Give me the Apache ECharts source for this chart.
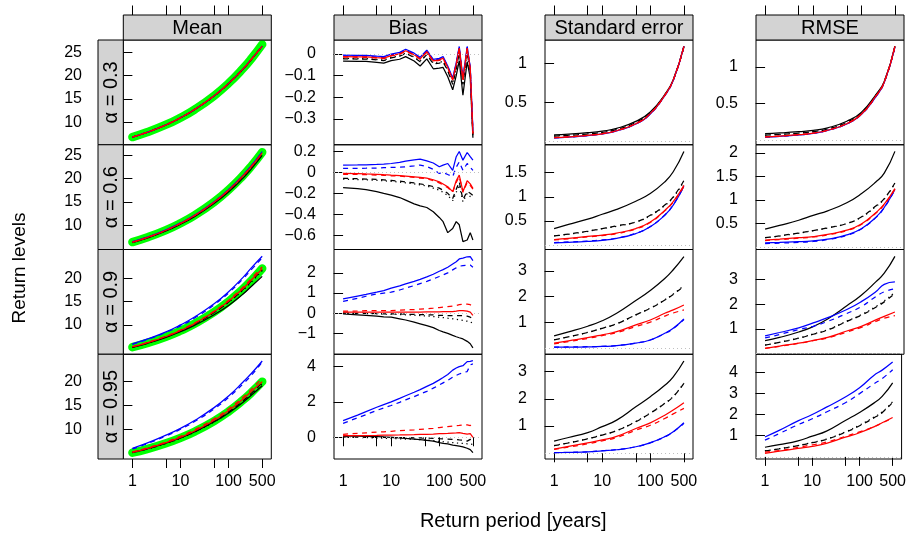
<!DOCTYPE html>
<html><head><meta charset="utf-8">
<script src="https://cdn.jsdelivr.net/npm/echarts@6/dist/echarts.min.js"></script>
<style>html,body{margin:0;padding:0;background:#fff}#c{width:909px;height:536px}</style>
</head><body><div id="c"></div>
<script>
// ---------------- DATA ----------------
const colTitles = ['Mean', 'Bias', 'Standard error', 'RMSE'];
const rowTitles = ['\u03B1 = 0.3', '\u03B1 = 0.6', '\u03B1 = 0.9', '\u03B1 = 0.95'];
const xTickYears = [1, 5, 10, 50, 100, 500];
const xLabelYears = [1, 10, 100, 500];
// return periods (years)
const T_grid = [1, 2, 5, 10, 20, 50, 100, 200, 300, 500];
const T_bias = [1, 2, 3, 5, 7, 10, 15, 20, 30, 40, 55, 75, 100, 120, 150, 190, 225, 260, 310, 380, 440, 500];

// ---- Mean ----
const mean_a03_true = [6.85, 7.86, 9.49, 11.00, 12.79, 15.69, 18.37, 21.55, 23.68, 26.70];
const mean_a03_bs   = [6.82, 7.83, 9.45, 10.97, 12.78, 15.66, 18.31, 21.40, 23.49, 26.31];
const mean_a03_bd   = [6.83, 7.84, 9.46, 10.98, 12.79, 15.68, 18.33, 21.42, 23.54, 26.33];
const mean_a03_bdot = [6.83, 7.84, 9.47, 10.98, 12.79, 15.68, 18.33, 21.42, 23.55, 26.33];
const mean_a03_us   = [6.85, 7.85, 9.48, 11.00, 12.81, 15.70, 18.35, 21.46, 23.59, 26.35];
const mean_a03_ud   = [6.84, 7.85, 9.48, 11.00, 12.81, 15.69, 18.35, 21.45, 23.58, 26.35];
const mean_a03_rs   = [6.84, 7.85, 9.47, 10.99, 12.80, 15.69, 18.34, 21.44, 23.57, 26.34];
const mean_a03_rd   = [6.84, 7.84, 9.47, 10.99, 12.80, 15.69, 18.34, 21.44, 23.57, 26.33];

const mean_a06_true = [6.40, 7.38, 8.97, 10.44, 12.18, 15.00, 17.60, 20.69, 22.77, 25.70];
const mean_a06_bs   = [6.26, 7.22, 8.78, 10.22, 11.91, 14.66, 17.15, 20.14, 22.17, 25.02];
const mean_a06_bd   = [6.33, 7.31, 8.90, 10.36, 12.10, 14.91, 17.48, 20.55, 22.62, 25.50];
const mean_a06_bdot = [6.33, 7.31, 8.90, 10.37, 12.11, 14.92, 17.50, 20.57, 22.64, 25.52];
const mean_a06_us   = [6.47, 7.45, 9.04, 10.51, 12.25, 15.08, 17.68, 20.79, 22.88, 25.85];
const mean_a06_ud   = [6.42, 7.40, 8.99, 10.46, 12.20, 15.02, 17.63, 20.73, 22.81, 25.75];
const mean_a06_rs   = [6.37, 7.35, 8.94, 10.41, 12.14, 14.96, 17.55, 20.63, 22.68, 25.57];
const mean_a06_rd   = [6.37, 7.35, 8.94, 10.41, 12.15, 14.97, 17.56, 20.64, 22.70, 25.58];

const mean_a09_true = [5.22, 6.08, 7.47, 8.76, 10.29, 12.76, 15.04, 17.75, 19.57, 22.14];
const mean_a09_bs   = [5.19, 6.00, 7.32, 8.56, 9.95, 12.18, 14.18, 16.63, 18.31, 20.42];
const mean_a09_bd   = [5.22, 6.07, 7.45, 8.73, 10.24, 12.69, 14.93, 17.63, 19.45, 21.86];
const mean_a09_bdot = [5.22, 6.07, 7.44, 8.71, 10.21, 12.63, 14.84, 17.47, 19.23, 21.65];
const mean_a09_us   = [5.93, 6.93, 8.51, 10.00, 11.74, 14.53, 17.12, 20.22, 22.29, 24.75];
const mean_a09_ud   = [5.80, 6.82, 8.42, 9.80, 11.53, 14.31, 16.86, 19.92, 21.92, 24.42];
const mean_a09_rs   = [5.27, 6.13, 7.52, 8.81, 10.34, 12.82, 15.10, 17.83, 19.70, 22.03];
const mean_a09_rd   = [5.32, 6.19, 7.59, 8.89, 10.45, 12.97, 15.32, 18.11, 20.01, 22.47];

const mean_a095_true = [5.08, 5.84, 7.07, 8.20, 9.55, 11.73, 13.74, 16.13, 17.74, 20.00];
const mean_a095_bs   = [5.15, 5.90, 7.11, 8.20, 9.49, 11.57, 13.44, 15.69, 17.22, 19.13];
const mean_a095_bd   = [5.10, 5.85, 7.07, 8.19, 9.53, 11.69, 13.66, 16.01, 17.59, 19.80];
const mean_a095_bdot = [5.08, 5.82, 7.02, 8.12, 9.44, 11.56, 13.51, 15.83, 17.40, 19.60];
const mean_a095_us   = [6.02, 7.09, 8.77, 10.20, 11.90, 14.55, 16.99, 19.93, 21.76, 24.34];
const mean_a095_ud   = [5.87, 6.94, 8.59, 10.00, 11.67, 14.28, 16.70, 19.53, 21.37, 24.15];
const mean_a095_rs   = [5.17, 5.94, 7.18, 8.32, 9.69, 11.90, 13.94, 16.37, 17.98, 20.00];
const mean_a095_rd   = [5.25, 6.06, 7.36, 8.54, 9.94, 12.20, 14.29, 16.76, 18.43, 20.79];

// ---- Bias ----
const bias_a03_bs   = [-0.033, -0.034, -0.034, -0.038, -0.042, -0.030, -0.024, -0.012, -0.032, -0.055, -0.022, -0.068, -0.065, -0.062, -0.105, -0.165, -0.100, -0.030, -0.190, -0.035, -0.110, -0.386];
const bias_a03_bd   = [-0.022, -0.023, -0.023, -0.027, -0.030, -0.018, -0.010, 0.003, -0.015, -0.036, -0.002, -0.046, -0.042, -0.036, -0.078, -0.140, -0.070, 0.008, -0.140, 0.008, -0.085, -0.375];
const bias_a03_bdot = [-0.020, -0.021, -0.021, -0.025, -0.028, -0.016, -0.008, 0.005, -0.013, -0.033, 0.000, -0.043, -0.039, -0.033, -0.075, -0.135, -0.066, 0.012, -0.135, 0.012, -0.080, -0.372];
const bias_a03_us   = [-0.005, -0.006, -0.006, -0.010, -0.012, 0.000, 0.008, 0.022, 0.004, -0.015, 0.018, -0.025, -0.020, -0.012, -0.055, -0.110, -0.040, 0.035, -0.110, 0.035, -0.060, -0.350];
const bias_a03_ud   = [-0.009, -0.010, -0.010, -0.014, -0.016, -0.004, 0.004, 0.018, 0.000, -0.019, 0.014, -0.029, -0.024, -0.016, -0.059, -0.114, -0.044, 0.031, -0.114, 0.031, -0.064, -0.355];
const bias_a03_rs   = [-0.012, -0.013, -0.013, -0.017, -0.019, -0.007, 0.001, 0.015, -0.003, -0.022, 0.011, -0.032, -0.027, -0.019, -0.062, -0.118, -0.048, 0.027, -0.118, 0.028, -0.068, -0.365];
const bias_a03_rd   = [-0.014, -0.015, -0.015, -0.019, -0.021, -0.009, -0.001, 0.013, -0.005, -0.024, 0.009, -0.034, -0.029, -0.021, -0.064, -0.120, -0.050, 0.025, -0.120, 0.025, -0.070, -0.368];

const bias_a06_bs   = [-0.146, -0.155, -0.165, -0.184, -0.200, -0.216, -0.240, -0.264, -0.300, -0.320, -0.335, -0.375, -0.430, -0.470, -0.575, -0.535, -0.470, -0.500, -0.660, -0.645, -0.575, -0.645];
const bias_a06_bd   = [-0.057, -0.060, -0.063, -0.067, -0.072, -0.077, -0.084, -0.090, -0.100, -0.110, -0.120, -0.135, -0.150, -0.170, -0.200, -0.250, -0.160, -0.090, -0.260, -0.180, -0.200, -0.220];
const bias_a06_bdot = [-0.065, -0.068, -0.071, -0.075, -0.080, -0.085, -0.092, -0.100, -0.110, -0.120, -0.130, -0.150, -0.170, -0.190, -0.220, -0.270, -0.190, -0.120, -0.280, -0.200, -0.230, -0.250];
const bias_a06_us   = [0.070, 0.071, 0.073, 0.076, 0.080, 0.085, 0.095, 0.108, 0.120, 0.127, 0.110, 0.090, 0.054, 0.070, 0.085, 0.020, 0.150, 0.200, 0.117, 0.190, 0.150, 0.117];
const bias_a06_ud   = [0.038, 0.039, 0.040, 0.042, 0.045, 0.048, 0.050, 0.054, 0.062, 0.070, 0.055, 0.030, -0.010, 0.000, -0.020, -0.040, 0.050, 0.100, 0.020, 0.085, 0.050, 0.020];
const bias_a06_rs   = [-0.010, -0.012, -0.015, -0.018, -0.022, -0.026, -0.030, -0.035, -0.042, -0.048, -0.055, -0.070, -0.090, -0.110, -0.137, -0.184, -0.080, -0.026, -0.184, -0.080, -0.110, -0.153];
const bias_a06_rd   = [-0.018, -0.020, -0.022, -0.025, -0.028, -0.032, -0.036, -0.040, -0.048, -0.055, -0.060, -0.078, -0.100, -0.120, -0.145, -0.190, -0.095, -0.040, -0.190, -0.095, -0.125, -0.160];

const bias_a09_bs   = [-0.03, -0.08, -0.11, -0.15, -0.18, -0.20, -0.28, -0.34, -0.45, -0.53, -0.62, -0.72, -0.86, -0.93, -1.00, -1.10, -1.17, -1.22, -1.28, -1.40, -1.52, -1.72];
const bias_a09_bd   = [0.00, -0.01, -0.01, -0.02, -0.03, -0.03, -0.04, -0.05, -0.06, -0.07, -0.08, -0.09, -0.11, -0.11, -0.12, -0.12, -0.12, -0.12, -0.13, -0.15, -0.20, -0.28];
const bias_a09_bdot = [0.00, -0.01, -0.02, -0.03, -0.04, -0.05, -0.07, -0.08, -0.10, -0.12, -0.14, -0.17, -0.20, -0.22, -0.25, -0.28, -0.31, -0.33, -0.36, -0.40, -0.44, -0.49];
const bias_a09_us   = [0.71, 0.85, 0.93, 1.04, 1.12, 1.24, 1.35, 1.45, 1.58, 1.68, 1.80, 1.93, 2.08, 2.16, 2.28, 2.44, 2.55, 2.69, 2.73, 2.80, 2.81, 2.61];
const bias_a09_ud   = [0.58, 0.74, 0.84, 0.95, 1.00, 1.04, 1.15, 1.24, 1.37, 1.47, 1.58, 1.70, 1.82, 1.90, 2.00, 2.15, 2.25, 2.33, 2.36, 2.38, 2.39, 2.28];
const bias_a09_rs   = [0.05, 0.05, 0.05, 0.05, 0.05, 0.05, 0.05, 0.05, 0.05, 0.05, 0.06, 0.06, 0.06, 0.07, 0.07, 0.08, 0.10, 0.12, 0.13, 0.10, 0.05, -0.11];
const bias_a09_rd   = [0.10, 0.11, 0.12, 0.12, 0.13, 0.13, 0.15, 0.16, 0.18, 0.20, 0.22, 0.25, 0.28, 0.30, 0.32, 0.35, 0.38, 0.42, 0.45, 0.45, 0.42, 0.33];

const bias_a095_bs   = [0.07, 0.06, 0.05, 0.04, 0.02, 0.00, -0.03, -0.06, -0.10, -0.13, -0.17, -0.22, -0.30, -0.34, -0.38, -0.44, -0.47, -0.50, -0.54, -0.62, -0.70, -0.87];
const bias_a095_bd   = [0.02, 0.01, 0.00, 0.00, -0.01, -0.01, -0.02, -0.02, -0.03, -0.04, -0.05, -0.06, -0.08, -0.09, -0.10, -0.12, -0.13, -0.15, -0.16, -0.22, -0.12, -0.20];
const bias_a095_bdot = [0.00, -0.01, -0.02, -0.04, -0.05, -0.07, -0.09, -0.10, -0.12, -0.14, -0.16, -0.19, -0.23, -0.25, -0.27, -0.30, -0.32, -0.34, -0.35, -0.37, -0.38, -0.40];
const bias_a095_us   = [0.94, 1.25, 1.45, 1.70, 1.85, 2.00, 2.20, 2.35, 2.55, 2.70, 2.88, 3.05, 3.25, 3.38, 3.55, 3.80, 3.92, 4.00, 4.05, 4.28, 4.30, 4.34];
const bias_a095_ud   = [0.79, 1.10, 1.28, 1.52, 1.66, 1.80, 1.98, 2.12, 2.30, 2.45, 2.60, 2.78, 2.96, 3.08, 3.22, 3.40, 3.50, 3.58, 3.66, 3.72, 4.10, 4.15];
const bias_a095_rs   = [0.09, 0.10, 0.10, 0.11, 0.12, 0.12, 0.13, 0.14, 0.15, 0.16, 0.17, 0.18, 0.20, 0.21, 0.22, 0.24, 0.25, 0.26, 0.22, 0.18, 0.20, 0.00];
const bias_a095_rd   = [0.17, 0.22, 0.25, 0.29, 0.31, 0.34, 0.37, 0.39, 0.42, 0.45, 0.48, 0.51, 0.55, 0.57, 0.60, 0.63, 0.65, 0.67, 0.70, 0.70, 0.66, 0.79];

// ---- Standard error ----
const se_a03_bs   = [0.083, 0.092, 0.110, 0.130, 0.165, 0.255, 0.376, 0.600, 0.790, 1.220];
const se_a03_bd   = [0.066, 0.075, 0.093, 0.113, 0.150, 0.240, 0.365, 0.595, 0.787, 1.215];
const se_a03_bdot = [0.068, 0.077, 0.095, 0.115, 0.152, 0.242, 0.367, 0.596, 0.788, 1.218];
const se_a03_us   = [0.042, 0.052, 0.072, 0.094, 0.133, 0.222, 0.350, 0.585, 0.780, 1.220];
const se_a03_ud   = [0.043, 0.053, 0.073, 0.095, 0.134, 0.223, 0.351, 0.587, 0.782, 1.215];
const se_a03_rs   = [0.045, 0.055, 0.075, 0.096, 0.135, 0.225, 0.354, 0.590, 0.785, 1.220];
const se_a03_rd   = [0.046, 0.056, 0.076, 0.097, 0.136, 0.226, 0.355, 0.590, 0.785, 1.210];

const se_a06_bs   = [0.344, 0.430, 0.540, 0.640, 0.740, 0.910, 1.070, 1.310, 1.520, 1.940];
const se_a06_bd   = [0.193, 0.230, 0.290, 0.344, 0.400, 0.480, 0.620, 0.830, 1.000, 1.340];
const se_a06_bdot = [0.190, 0.225, 0.285, 0.340, 0.390, 0.480, 0.610, 0.820, 0.990, 1.320];
const se_a06_us   = [0.048, 0.060, 0.080, 0.100, 0.140, 0.240, 0.380, 0.620, 0.830, 1.220];
const se_a06_ud   = [0.055, 0.066, 0.086, 0.107, 0.147, 0.245, 0.385, 0.625, 0.835, 1.220];
const se_a06_rs   = [0.117, 0.140, 0.180, 0.207, 0.250, 0.344, 0.480, 0.720, 0.900, 1.240];
const se_a06_rd   = [0.110, 0.132, 0.170, 0.198, 0.240, 0.335, 0.470, 0.710, 0.890, 1.220];

const se_a09_bs   = [0.49, 0.64, 0.86, 1.07, 1.36, 1.85, 2.24, 2.70, 3.04, 3.55];
const se_a09_bd   = [0.335, 0.45, 0.62, 0.78, 0.95, 1.30, 1.55, 1.87, 2.09, 2.41];
const se_a09_bdot = [0.34, 0.455, 0.625, 0.785, 0.96, 1.30, 1.56, 1.88, 2.10, 2.43];
const se_a09_us   = [0.05, 0.055, 0.065, 0.08, 0.11, 0.21, 0.33, 0.59, 0.78, 1.14];
const se_a09_ud   = [0.055, 0.06, 0.07, 0.085, 0.115, 0.21, 0.33, 0.58, 0.77, 1.12];
const se_a09_rs   = [0.21, 0.30, 0.42, 0.53, 0.65, 0.91, 1.10, 1.36, 1.49, 1.68];
const se_a09_rd   = [0.18, 0.27, 0.39, 0.50, 0.61, 0.85, 1.02, 1.25, 1.37, 1.49];

const se_a095_bs   = [0.45, 0.58, 0.76, 0.98, 1.22, 1.71, 2.08, 2.50, 2.81, 3.39];
const se_a095_bd   = [0.28, 0.38, 0.53, 0.67, 0.83, 1.16, 1.47, 1.83, 2.08, 2.57];
const se_a095_bdot = [0.285, 0.385, 0.535, 0.675, 0.835, 1.17, 1.48, 1.84, 2.09, 2.58];
const se_a095_us   = [0.02, 0.03, 0.05, 0.09, 0.13, 0.24, 0.39, 0.61, 0.79, 1.12];
const se_a095_ud   = [0.025, 0.035, 0.055, 0.095, 0.135, 0.24, 0.385, 0.60, 0.78, 1.10];
const se_a095_rs   = [0.15, 0.25, 0.38, 0.49, 0.62, 0.91, 1.12, 1.40, 1.59, 1.86];
const se_a095_rd   = [0.14, 0.23, 0.35, 0.46, 0.58, 0.85, 1.03, 1.28, 1.45, 1.65];

// ---- RMSE ----
const rmse_a03_bs   = [0.090, 0.100, 0.117, 0.134, 0.170, 0.260, 0.380, 0.620, 0.800, 1.280];
const rmse_a03_bd   = [0.070, 0.080, 0.098, 0.118, 0.153, 0.244, 0.370, 0.610, 0.795, 1.280];
const rmse_a03_bdot = [0.071, 0.081, 0.099, 0.119, 0.154, 0.245, 0.371, 0.612, 0.797, 1.280];
const rmse_a03_us   = [0.043, 0.053, 0.073, 0.095, 0.135, 0.223, 0.350, 0.590, 0.785, 1.270];
const rmse_a03_ud   = [0.044, 0.054, 0.074, 0.096, 0.136, 0.224, 0.352, 0.595, 0.787, 1.270];
const rmse_a03_rs   = [0.047, 0.057, 0.077, 0.097, 0.137, 0.226, 0.355, 0.600, 0.790, 1.280];
const rmse_a03_rd   = [0.048, 0.058, 0.078, 0.098, 0.138, 0.227, 0.356, 0.600, 0.790, 1.270];

const rmse_a06_bs   = [0.38, 0.46, 0.57, 0.675, 0.77, 0.94, 1.13, 1.38, 1.57, 2.03];
const rmse_a06_bd   = [0.20, 0.24, 0.30, 0.35, 0.41, 0.50, 0.64, 0.87, 1.03, 1.36];
const rmse_a06_bdot = [0.20, 0.235, 0.295, 0.35, 0.405, 0.50, 0.635, 0.86, 1.02, 1.35];
const rmse_a06_us   = [0.09, 0.10, 0.115, 0.135, 0.17, 0.26, 0.39, 0.63, 0.84, 1.22];
const rmse_a06_ud   = [0.075, 0.085, 0.10, 0.12, 0.16, 0.25, 0.385, 0.625, 0.835, 1.22];
const rmse_a06_rs   = [0.15, 0.17, 0.20, 0.225, 0.27, 0.36, 0.49, 0.73, 0.91, 1.24];
const rmse_a06_rd   = [0.14, 0.16, 0.19, 0.215, 0.26, 0.35, 0.48, 0.72, 0.90, 1.23];

const rmse_a09_bs   = [0.52, 0.65, 0.87, 1.09, 1.40, 1.93, 2.36, 2.90, 3.25, 3.93];
const rmse_a09_bd   = [0.34, 0.45, 0.62, 0.78, 0.95, 1.30, 1.55, 1.87, 2.09, 2.43];
const rmse_a09_bdot = [0.34, 0.455, 0.626, 0.79, 0.965, 1.31, 1.57, 1.90, 2.13, 2.48];
const rmse_a09_us   = [0.71, 0.85, 1.04, 1.24, 1.45, 1.78, 2.10, 2.50, 2.80, 2.90];
const rmse_a09_ud   = [0.63, 0.77, 0.97, 1.10, 1.30, 1.62, 1.90, 2.30, 2.50, 2.62];
const rmse_a09_rs   = [0.21, 0.30, 0.42, 0.53, 0.65, 0.91, 1.10, 1.36, 1.50, 1.68];
const rmse_a09_rd   = [0.21, 0.29, 0.41, 0.52, 0.63, 0.87, 1.06, 1.30, 1.43, 1.53];

const rmse_a095_bs   = [0.455, 0.58, 0.76, 0.98, 1.22, 1.72, 2.10, 2.54, 2.86, 3.50];
const rmse_a095_bd   = [0.28, 0.38, 0.53, 0.67, 0.83, 1.16, 1.47, 1.84, 2.09, 2.58];
const rmse_a095_bdot = [0.285, 0.385, 0.537, 0.68, 0.84, 1.18, 1.50, 1.87, 2.12, 2.61];
const rmse_a095_us   = [0.94, 1.25, 1.70, 2.00, 2.35, 2.83, 3.27, 3.85, 4.10, 4.48];
const rmse_a095_ud   = [0.79, 1.10, 1.52, 1.80, 2.12, 2.56, 2.99, 3.45, 3.70, 4.12];
const rmse_a095_rs   = [0.17, 0.27, 0.40, 0.50, 0.64, 0.93, 1.14, 1.42, 1.61, 1.86];
const rmse_a095_rd   = [0.22, 0.30, 0.45, 0.57, 0.70, 0.97, 1.18, 1.42, 1.60, 1.83];

// y-axis ticks per panel [row][col]
const yTicks_a03  = [[10, 15, 20, 25], [-0.3, -0.2, -0.1, 0], [0.5, 1], [0.5, 1]];
const yTicks_a06  = [[10, 15, 20, 25], [-0.6, -0.4, -0.2, 0, 0.2], [0.5, 1, 1.5], [0.5, 1, 1.5, 2]];
const yTicks_a09  = [[10, 15, 20], [-1, 0, 1, 2], [1, 2, 3], [1, 2, 3]];
const yTicks_a095 = [[10, 15, 20], [0, 2, 4], [1, 2, 3], [1, 2, 3, 4]];
// y-axis ranges per panel [row][col]
const yRange_a03  = [[5.2, 27.64], [-0.4185, 0.0648], [-0.045, 1.30], [-0.06, 1.365]];
const yRange_a06  = [[4.8, 27.3], [-0.736, 0.264], [-0.09, 2.08], [-0.05, 2.17]];
const yRange_a09  = [[3.7, 26.2], [-2.04, 3.16], [-0.22, 3.82], [-0.03, 4.21]];
const yRange_a095 = [[3.76, 25.76], [-1.23, 4.70], [-0.21, 3.64], [-0.10, 4.85]];

// ---------------- BUILD ----------------
const FONT = 'Liberation Sans, Arial, Helvetica, sans-serif';
const COL_LEFT = [123.3, 334, 545, 756];
const COL_W = 148;
const ROW_TOP = [40, 144.75, 249.5, 354.25];
const ROW_H = 104.75;
const STRIP_TOP = 15, STRIP_H = 25;
const RS_LEFT = 98, RS_W = 25.3;
const LOGMAX = Math.log10(500);
const XMIN = -0.07 * LOGMAX, XMAX = LOGMAX * 1.07;

const keys = ['bs', 'bd', 'bdot', 'us', 'ud', 'rs', 'rd'];
const DASH = [5, 4.5], DOT = [1.25, 3.5];
const styleOf = {
  bs: { color: '#000000', type: 'solid' },
  bd: { color: '#000000', type: DASH },
  bdot: { color: '#000000', type: DOT },
  us: { color: '#0000ff', type: 'solid' },
  ud: { color: '#0000ff', type: DASH },
  rs: { color: '#ff0000', type: 'solid' },
  rd: { color: '#ff0000', type: DASH }
};

const rowsData = [
  { mean: { true: mean_a03_true, bs: mean_a03_bs, bd: mean_a03_bd, bdot: mean_a03_bdot, us: mean_a03_us, ud: mean_a03_ud, rs: mean_a03_rs, rd: mean_a03_rd },
    bias: { bs: bias_a03_bs, bd: bias_a03_bd, bdot: bias_a03_bdot, us: bias_a03_us, ud: bias_a03_ud, rs: bias_a03_rs, rd: bias_a03_rd },
    se: { bs: se_a03_bs, bd: se_a03_bd, bdot: se_a03_bdot, us: se_a03_us, ud: se_a03_ud, rs: se_a03_rs, rd: se_a03_rd },
    rmse: { bs: rmse_a03_bs, bd: rmse_a03_bd, bdot: rmse_a03_bdot, us: rmse_a03_us, ud: rmse_a03_ud, rs: rmse_a03_rs, rd: rmse_a03_rd },
    ticks: yTicks_a03, ranges: yRange_a03 },
  { mean: { true: mean_a06_true, bs: mean_a06_bs, bd: mean_a06_bd, bdot: mean_a06_bdot, us: mean_a06_us, ud: mean_a06_ud, rs: mean_a06_rs, rd: mean_a06_rd },
    bias: { bs: bias_a06_bs, bd: bias_a06_bd, bdot: bias_a06_bdot, us: bias_a06_us, ud: bias_a06_ud, rs: bias_a06_rs, rd: bias_a06_rd },
    se: { bs: se_a06_bs, bd: se_a06_bd, bdot: se_a06_bdot, us: se_a06_us, ud: se_a06_ud, rs: se_a06_rs, rd: se_a06_rd },
    rmse: { bs: rmse_a06_bs, bd: rmse_a06_bd, bdot: rmse_a06_bdot, us: rmse_a06_us, ud: rmse_a06_ud, rs: rmse_a06_rs, rd: rmse_a06_rd },
    ticks: yTicks_a06, ranges: yRange_a06 },
  { mean: { true: mean_a09_true, bs: mean_a09_bs, bd: mean_a09_bd, bdot: mean_a09_bdot, us: mean_a09_us, ud: mean_a09_ud, rs: mean_a09_rs, rd: mean_a09_rd },
    bias: { bs: bias_a09_bs, bd: bias_a09_bd, bdot: bias_a09_bdot, us: bias_a09_us, ud: bias_a09_ud, rs: bias_a09_rs, rd: bias_a09_rd },
    se: { bs: se_a09_bs, bd: se_a09_bd, bdot: se_a09_bdot, us: se_a09_us, ud: se_a09_ud, rs: se_a09_rs, rd: se_a09_rd },
    rmse: { bs: rmse_a09_bs, bd: rmse_a09_bd, bdot: rmse_a09_bdot, us: rmse_a09_us, ud: rmse_a09_ud, rs: rmse_a09_rs, rd: rmse_a09_rd },
    ticks: yTicks_a09, ranges: yRange_a09 },
  { mean: { true: mean_a095_true, bs: mean_a095_bs, bd: mean_a095_bd, bdot: mean_a095_bdot, us: mean_a095_us, ud: mean_a095_ud, rs: mean_a095_rs, rd: mean_a095_rd },
    bias: { bs: bias_a095_bs, bd: bias_a095_bd, bdot: bias_a095_bdot, us: bias_a095_us, ud: bias_a095_ud, rs: bias_a095_rs, rd: bias_a095_rd },
    se: { bs: se_a095_bs, bd: se_a095_bd, bdot: se_a095_bdot, us: se_a095_us, ud: se_a095_ud, rs: se_a095_rs, rd: se_a095_rd },
    rmse: { bs: rmse_a095_bs, bd: rmse_a095_bd, bdot: rmse_a095_bdot, us: rmse_a095_us, ud: rmse_a095_ud, rs: rmse_a095_rs, rd: rmse_a095_rd },
    ticks: yTicks_a095, ranges: yRange_a095 }
];
const colKeys = ['mean', 'bias', 'se', 'rmse'];

function pairs(T, v) { return T.map((t, i) => [Math.log10(t), v[i]]); }
function fmtY(v) { return (v < 0 ? '\u2212' : '') + String(Math.abs(v)); }

const grids = [], xAxes = [], yAxes = [], series = [];
const xTickVals = xTickYears.map(t => Math.log10(t));
const xLabelVals = xLabelYears.map(t => Math.log10(t));

for (let r = 0; r < 4; r++) {
  for (let c = 0; c < 4; c++) {
    const g = r * 4 + c;
    grids.push({ left: COL_LEFT[c], top: ROW_TOP[r], width: COL_W, height: ROW_H,
      show: true, borderColor: '#000', borderWidth: 1, backgroundColor: 'transparent', containLabel: false });
    const bottom = r === 3;
    xAxes.push({ type: 'value', gridIndex: g, min: XMIN, max: XMAX, position: 'bottom',
      show: bottom, splitLine: { show: false }, axisLine: { show: false },
      axisTick: { show: true, length: 9, lineStyle: { color: '#000', width: 1 }, customValues: xTickVals },
      axisLabel: { show: true, margin: 15, fontSize: 16, fontFamily: FONT, color: '#000', customValues: xLabelVals,
        formatter: v => String(Math.round(Math.pow(10, v))) } });
    const rd = rowsData[r];
    yAxes.push({ type: 'value', gridIndex: g, min: rd.ranges[c][0], max: rd.ranges[c][1], position: 'left',
      offset: c === 0 ? RS_W : 0, splitLine: { show: false }, axisLine: { show: false },
      axisTick: { show: true, length: 9.5, lineStyle: { color: '#000', width: 1 }, customValues: rd.ticks[c] },
      axisLabel: { show: true, margin: c === 0 ? 16 : 18, fontSize: 16, fontFamily: FONT, color: '#000', customValues: rd.ticks[c], formatter: fmtY } });

    const panel = rd[colKeys[c]];
    const T = c === 1 ? T_bias : T_grid;
    const smooth = c === 1 ? false : 0.5;
    if (c === 0) {
      series.push({ type: 'line', xAxisIndex: g, yAxisIndex: g, data: pairs(T, panel.true), showSymbol: false,
        smooth: smooth, lineStyle: { color: '#00ff00', width: 8.5, cap: 'round', join: 'round' },
        silent: true, animation: false, z: 1 });
    }
    keys.forEach((k, ki) => {
      const s = { type: 'line', xAxisIndex: g, yAxisIndex: g, data: pairs(T, panel[k]), showSymbol: false,
        smooth: smooth, lineStyle: { color: styleOf[k].color, type: styleOf[k].type, width: 1.25 },
        silent: true, animation: false, z: 2 };
      if (c > 0 && ki === 0) {
        s.markLine = { silent: true, symbol: 'none', animation: false, label: { show: false },
          lineStyle: { color: '#c0c0c0', type: [1, 3], width: 1 }, data: [{ yAxis: 0 }] };
      }
      series.push(s);
    });
  }
}
// top tick marks above the strips
for (let c = 0; c < 4; c++) {
  xAxes.push({ type: 'value', gridIndex: c, min: XMIN, max: XMAX, position: 'top', offset: STRIP_H,
    splitLine: { show: false }, axisLine: { show: false },
    axisTick: { show: true, length: 9.5, lineStyle: { color: '#000', width: 1 }, customValues: xTickVals },
    axisLabel: { show: false } });
}

const graphic = [];
for (let c = 0; c < 4; c++) {
  graphic.push({ type: 'rect', shape: { x: COL_LEFT[c], y: STRIP_TOP, width: COL_W, height: STRIP_H },
    style: { fill: '#d3d3d3', stroke: '#000', lineWidth: 1 }, z: 10 });
  graphic.push({ type: 'text', x: COL_LEFT[c] + COL_W / 2, y: STRIP_TOP + STRIP_H / 2 + 1,
    style: { text: colTitles[c], fontSize: 20, fontFamily: FONT, fill: '#000', align: 'center', verticalAlign: 'middle' }, z: 11 });
}
for (let r = 0; r < 4; r++) {
  graphic.push({ type: 'rect', shape: { x: RS_LEFT, y: ROW_TOP[r], width: RS_W, height: ROW_H },
    style: { fill: '#d3d3d3', stroke: '#000', lineWidth: 1 }, z: 10 });
  graphic.push({ type: 'text', x: RS_LEFT + RS_W / 2 + 1, y: ROW_TOP[r] + ROW_H / 2, rotation: Math.PI / 2,
    style: { text: rowTitles[r], fontSize: 20, fontFamily: FONT, fill: '#000', align: 'center', verticalAlign: 'middle' }, z: 11 });
}
graphic.push({ type: 'text', x: 20, y: 268, rotation: Math.PI / 2,
  style: { text: 'Return levels', fontSize: 19, fontFamily: FONT, fill: '#000', align: 'center', verticalAlign: 'middle' } });
graphic.push({ type: 'text', x: 513.3, y: 521,
  style: { text: 'Return period [years]', fontSize: 20, fontFamily: FONT, fill: '#000', align: 'center', verticalAlign: 'middle' } });

const chart = echarts.init(document.getElementById('c'), null, { renderer: 'canvas' });
chart.setOption({ animation: false, backgroundColor: '#ffffff', grid: grids, xAxis: xAxes, yAxis: yAxes, series: series, graphic: graphic });
</script></body></html>
